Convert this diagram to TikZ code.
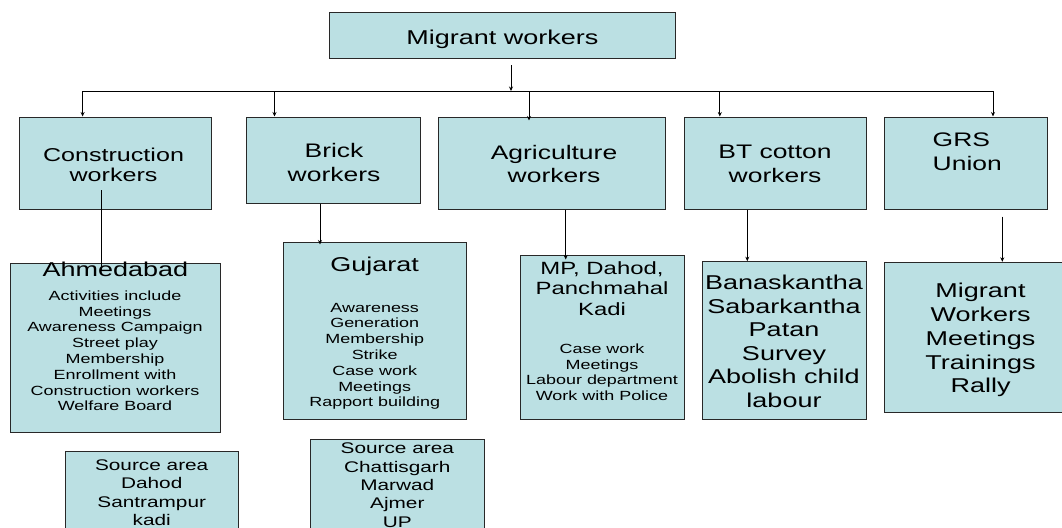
\documentclass[tikz,border=0pt]{standalone}
\usepackage{fontspec}
\setmainfont{Liberation Sans}[FakeStretch=1.35]
\usetikzlibrary{arrows.meta}
\definecolor{boxfill}{RGB}{187,224,227}
\definecolor{boxline}{RGB}{40,40,40}
\tikzset{
  box/.style={draw=boxline, fill=boxfill, line width=1pt, rectangle, inner sep=0pt},
  txt/.style={inner sep=0pt, align=center, anchor=north, text=black},
  conn/.style={line width=1pt, draw=black},
  arr/.style={conn, -{Stealth[length=4.5pt,width=4pt]}},
  fA/.style={font=\fontsize{20}{24}\selectfont},
  fS/.style={font=\fontsize{13.3}{15.8}\selectfont},
}
\begin{document}
\begin{tikzpicture}[x=1pt,y=-1pt]
\useasboundingbox (0,0) rectangle (1062,527);
\clip (0,0) rectangle (1062,527);
\fill[white] (0,0) rectangle (1062,527);

% top level
\node[box, minimum width=346pt, minimum height=46pt] (top) at (502,36) {};
\node[txt, anchor=base, fA] (toptxt) at (502.5,45) {Migrant workers};

% level 2
\node[box, minimum width=191.4pt, minimum height=92pt] (cons) at (115.3,163) {};
\node[box, minimum width=173.4pt, minimum height=86pt] (brick) at (333.3,160) {};
\node[box, minimum width=227.6pt, minimum height=92pt] (agri) at (551.8,163) {};
\node[box, minimum width=182pt, minimum height=92pt] (bt) at (775,163) {};
\node[box, minimum width=163.3pt, minimum height=92pt] (grs) at (965.65,163) {};

\node[txt, font=\fontsize{18.6}{20}\selectfont] (constxt) at (113.5,147.6) {Construction\\workers};
\node[txt, font=\fontsize{19.6}{24.3}\selectfont] (bricktxt) at (334,142.6) {Brick\\workers};
\node[txt, font=\fontsize{19.6}{23.5}\selectfont] (agritxt) at (554,144.9) {Agriculture\\workers};
\node[txt, font=\fontsize{19.6}{23.4}\selectfont] (bttxt) at (775,145.2) {BT cotton\\workers};
\node[txt, align=left, anchor=north west, font=\fontsize{19.6}{24.3}\selectfont] (grstxt) at (932.5,132.6) {GRS\\Union};

% level 3
\node[box, minimum width=210pt, minimum height=169.3pt] (ahm) at (115,347.65) {};
\node[box, minimum width=182.7pt, minimum height=177.3pt] (guj) at (374.65,330.65) {};
\node[box, minimum width=164pt, minimum height=164pt] (mp) at (602,337) {};
\node[box, minimum width=164pt, minimum height=157.3pt] (ban) at (784,340.35) {};
\node[box, minimum width=178.5pt, minimum height=150pt] (mig) at (973.25,337.3) {};

\node[txt, fA] (ahmhead) at (115.4,261.5) {Ahmedabad};
\node[txt, fS] (ahmlist) at (115,290.4) {Activities include\\Meetings\\Awareness Campaign\\Street play\\Membership\\Enrollment with\\Construction workers\\Welfare Board};

\node[txt, fA] (gujhead) at (374.7,257.2) {Gujarat};
\node[txt, fS] (gujlist) at (374.7,302.7) {Awareness\\Generation\\Membership\\Strike\\Case work\\Meetings\\Rapport building};

\node[txt, font=\fontsize{17.7}{20.5}\selectfont] (mphead) at (602,261.3) {MP, Dahod,\\Panchmahal\\Kadi};
\node[txt, font=\fontsize{13.3}{15.6}\selectfont] (mplist) at (602,343.7) {Case work\\Meetings\\Labour department\\Work with Police};

\node[txt, font=\fontsize{20}{23.5}\selectfont] (bantxt) at (784,274.9) {Banaskantha\\Sabarkantha\\Patan\\Survey\\Abolish child\\labour};

\node[txt, font=\fontsize{20}{23.85}\selectfont] (migtxt) at (980.5,282.9) {Migrant\\Workers\\Meetings\\Trainings\\Rally};

% source areas
\node[box, minimum width=173.3pt, minimum height=93.3pt] (src1) at (151.65,498.35) {};
\node[box, minimum width=173.3pt, minimum height=106pt] (src2) at (397.35,492) {};
\node[txt, font=\fontsize{15.4}{18.3}\selectfont] (src1txt) at (151.7,459.6) {Source area\\Dahod\\Santrampur\\kadi};
\node[txt, font=\fontsize{15.4}{18.3}\selectfont] (src2txt) at (397.3,442.9) {Source area\\Chattisgarh\\Marwad\\Ajmer\\UP};

% connectors
\coordinate (bus) at (511,91);
\coordinate (k1) at (82.6,91);
\coordinate (k2) at (274.5,91);
\coordinate (k3) at (529,91);
\coordinate (k4) at (719.8,91);
\coordinate (k5) at (993,91);
\draw[arr] ([yshift=-6pt]top.south -| bus) -- (bus);
\draw[conn] (k1) -- (k5);
\draw[arr] (k1) -- (k1 |- cons.north);
\draw[arr] (k2) -- (k2 |- brick.north);
\draw[arr] (k3) -- ([yshift=-4pt]k3 |- agri.north);
\draw[arr] (k4) -- (k4 |- bt.north);
\draw[arr] (k5) -- (k5 |- grs.north);

\coordinate (c1) at (101.6,190);
\draw[conn] (c1) -- ([yshift=-7pt]c1 |- ahm.north);
\coordinate (c2) at (320,0);
\draw[arr] (c2 |- brick.south) -- ([yshift=-3pt]c2 |- guj.north);
\coordinate (c3) at (565.7,0);
\draw[arr] (c3 |- agri.south) -- ([yshift=-5pt]c3 |- mp.north);
\coordinate (c4) at (747.3,0);
\draw[arr] (c4 |- bt.south) -- (c4 |- ban.north);
\coordinate (c5) at (1002.3,0);
\draw[arr] ([yshift=-7pt]c5 |- grs.south) -- (c5 |- mig.north);
\end{tikzpicture}
\end{document}
